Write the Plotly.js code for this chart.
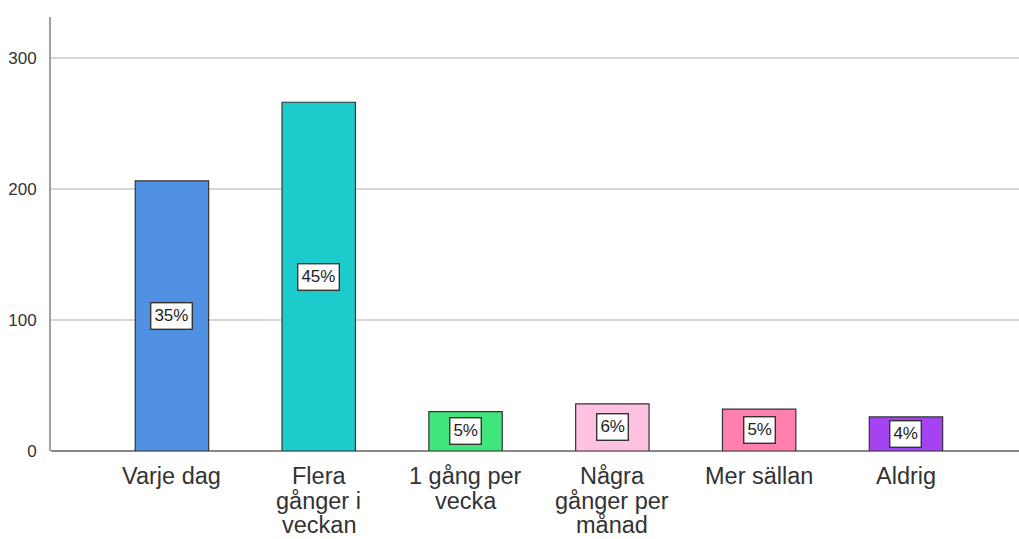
<!DOCTYPE html>
<html>
<head>
<meta charset="utf-8">
<script src="https://cdn.plot.ly/plotly-3.0.1.min.js"></script>
<style>
html,body{margin:0;padding:0;background:#fff;}
#chart{width:1019px;height:539px;}
</style>
</head>
<body>
<div id="chart"></div>
<script>
// Data
var categories = ["Varje dag", "Flera\ngånger i\nveckan", "1 gång per\nvecka", "Några\ngånger per\nmånad", "Mer sällan", "Aldrig"];
var counts = [206, 266, 30, 36, 32, 26];
var barColors = ["#5191e3", "#1ccbcc", "#40e67b", "#ffc1e0", "#ff80ae", "#a443f2"];
var yTicks = [0, 100, 200, 300];

var total = counts.reduce(function(a, b){ return a + b; }, 0);
var xIdx = categories.map(function(c, i){ return i; });

var trace = {
  type: "bar",
  x: xIdx,
  y: counts,
  width: 0.5,
  marker: {color: barColors, line: {color: "#333333", width: 1.2}},
  hoverinfo: "skip"
};

var annotations = [];
// percentage boxes
counts.forEach(function(v, i){
  annotations.push({
    x: i, y: v / 2, xref: "x", yref: "y",
    text: Math.round(v / total * 100) + "%",
    showarrow: false,
    font: {family: "Liberation Sans, Arial, sans-serif", size: 17, color: "#222"},
    bgcolor: "#ffffff",
    bordercolor: "#333333",
    borderwidth: 1.4,
    borderpad: 3,
    xanchor: "center", yanchor: "middle"
  });
});
// category labels (one annotation per line)
categories.forEach(function(c, i){
  c.split("\n").forEach(function(line, j){
    annotations.push({
      x: i, y: 0, xref: "x", yref: "y",
      text: line,
      showarrow: false,
      font: {family: "Liberation Sans, Arial, sans-serif", size: 23.5, color: "#333333"},
      xanchor: "center", yanchor: "middle",
      yshift: -(25 + j * 24.5)
    });
  });
});

var layout = {
  width: 1019, height: 539,
  margin: {l: 51, r: 0, t: 17, b: 88},
  paper_bgcolor: "#ffffff",
  plot_bgcolor: "#ffffff",
  showlegend: false,
  xaxis: {
    range: [-0.824, 5.77],
    showticklabels: false,
    showgrid: false,
    zeroline: false,
    showline: false,
    fixedrange: true
  },
  yaxis: {
    range: [0, 331],
    tickvals: yTicks,
    ticktext: yTicks.map(String),
    tickfont: {family: "Liberation Sans, Arial, sans-serif", size: 17, color: "#333333"},
    ticklabelstandoff: 9,
    showgrid: true,
    gridcolor: "#d6d6d6",
    gridwidth: 2,
    zeroline: true,
    zerolinecolor: "#888888",
    zerolinewidth: 1.5,
    showline: true,
    linecolor: "#a0a0a0",
    linewidth: 2,
    fixedrange: true
  },
  annotations: annotations
};

Plotly.newPlot("chart", [trace], layout, {displayModeBar: false, staticPlot: true});
</script>
</body>
</html>
